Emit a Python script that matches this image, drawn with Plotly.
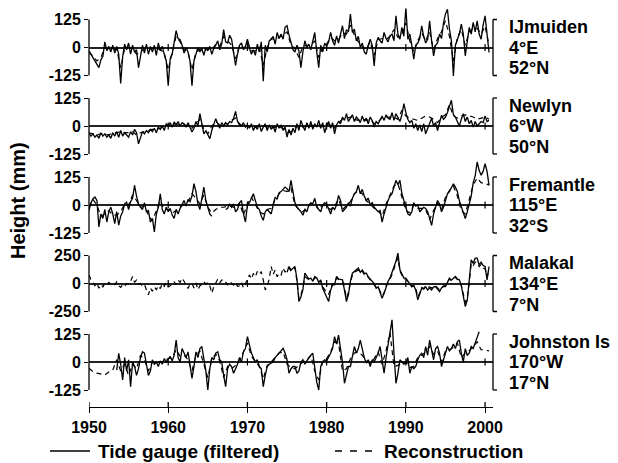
import plotly.graph_objects as go

# ---------------- data (mm) ----------------
START_YEAR = 1950.0
GAUGE_STEP = 0.25          # quarterly samples from 1950.0

decades = [1950, 1960, 1970, 1980, 1990, 2000]
stations = ["IJmuiden", "Newlyn", "Fremantle", "Malakal", "Johnston Is"]
longitudes = ["4°E", "6°W", "115°E", "134°E", "170°W"]
latitudes = ["52°N", "50°N", "32°S", "7°N", "17°N"]
tick_limits = [125, 125, 125, 250, 125]

ijm_gauge = [
    -15, -30, -45, -60,  -75, -90, -55, -40,  25, -15, 5, -20,  10, -25, 5, -30,
    -160, -40, 15, -10,  20, -30, 10, -20,  -10, -90, -40, 10,  -25, 15, -30, 5,
    -20, 10, -35, 20,  -15, 5, -30, -60,  -170, -50, -30, 20,  75, 40, 35, 10,
    -25, 0, -20, -60,  -170, -60, -30, 0,  -20, -5, -35, 0,  -15, 5, -30, -5,
    10, 30, -10, 15,  80, 25, 20, 55,  37, -20, -80, -30,  10, 20, -10, 5,
    37, 0, -30, -10,  -35, 15, -20, 25,  -150, 10, -20, 30,  37, 50, 15, 67,
    40, 60, 37, 90,  97, 55, 20, -10,  -20, 10, -15, -90,  -20, 30, 0, 15,
    -10, 25, 67, -20,  -90, 10, -20, 20,  5, 25, 67, 30,  10, 52, 20, 60,
    97, 40, 80, 70,  149, 67, 82, 30,  50, 0, 20, -20,  -30, 10, 37, 10,
    -82, 20, 45, 30,  20, 67, 40, 25,  52, 60, 30, 141,  60, 37, 90, 50,
    179, 37, 60, 10,  -52, 10, 20, 40,  97, 50, 20, 37,  119, 30, -37, 10,
    20, 60, 40, 110,  150, 171, 82, 30,  -127, 10, 40, 60,  104, 60, -37, 40,
    90, 60, 112, 70,  119, 60, 37, 100,  141, 60, -22,
]
ijm_rec = [
    -20, -40, -60, -45, 0, -5, -5, -10, -90, -5, 0, -5, -30, -20, -5, -10,
    -5, -5, -10, -25, -100, -20, 50, 25, -10, -20, -100, -20, -10, -15, -5, -10,
    15, 5, 50, 30, 10, -50, 10, -5, 20, -15, -15, 0, -80, 0, 40, 35,
    45, 55, 70, 10, -5, -45, 5, 10, 10, 30, -45, 0, 15, 45, 30, 35,
    65, 60, 100, 55, 25, 5, -10, 25, -35, 35, 40, 35, 50, 80, 45, 60,
    110, 30, -20, 30, 65, 30, 70, -10, 40, 70, 120, 50, -60, 45, 80, 10,
    70, 85, 85, 60, 95, 10,
]

new_gauge = [
    -30, -45, -35, -50,  -40, -55, -30, -45,  -35, -50, -40, -55,  -30, -45, -25, -50,
    -20, -45, -30, -40,  -50, -25, -40, -15,  -30, -80, -50, -25,  -35, -20, -30, -15,
    -25, -10, -30, -5,  -15, 0, -20, 10,  0, 15, -5, 18,  5, 20, 0, 15,
    10, -5, 15, -10,  -27, -10, 20, 0,  55, 10, -35, -20,  -40, -57, -20, 5,
    33, 10, -10, 15,  0, 15, 5, 20,  15, 35, 65, 20,  10, 0, 15, -5,
    5, -10, 10, -20,  0, -15, 10, -25,  -5, 10, -20, 5,  -15, 0, -27, 10,
    -10, 5, -20, -5,  -50, -15, -40, -10,  -30, 10, -20, 25,  0, -20, 15, -10,
    20, -15, 10, -5,  25, -10, 15, -30,  0, 20, -10, 15,  -35, 5, 20, 10,
    40, 25, 55, 20,  35, 50, 20, 40,  30, 15, 45, 20,  35, 10, 40, 25,
    -5, 20, 10, 30,  45, 25, 50, 35,  30, 60, 25, 55,  40, 20, 50, 100,
    60, 30, 15, 25,  -10, 10, -20, 5,  -25, 10, -35, -10,  20, 35, 0, 15,
    -20, 10, 48, 30,  40, 60, 90, 115,  50, 40, 20, 0,  30, 55, 20, 40,
    10, 25, -5, 20,  0, 10, 20, 15,  45, 20, 25,
]
new_rec = [
    -30, -35, -40, -35, -35, -40, -30, -30, -25, -30, -30, -25, -40, -30, -25, -20,
    -15, -15, -10, 0, 5, 5, 10, 5, 5, 0, -10, 10, 30, -15, -35, 0,
    20, 5, 10, 10, 25, 35, 5, 5, 0, -5, -5, 0, 0, -5, -10, -5,
    -5, -10, -30, -25, -10, 5, -5, 0, 5, 0, 10, -5, 10, 5, -10, 15,
    30, 35, 40, 30, 25, 30, 25, 30, 10, 20, 35, 40, 40, 40, 30, 70,
    45, 35, 30, 25, 35, 45, 40, 30, 15, 40, 50, 95, 45, 35, 45, 50,
    45, 40, 30, 35, 40, 30,
]

fre_gauge = [
    -24, 10, 28, 36,  20, -98, -40, -60,  -20, -76, -30, -10,  -40, -83, -30, -90,
    -50, -30, 5, 13,  -20, 15, 30, 88,  40, 5, -10, -20,  10, -30, -25, -76,
    -60, -120, -40, -10,  50, -20, -40, -10,  -30, -15, -45, -60,  -20, -40, -15, 0,
    20, -5, 25, 15,  40, 95, 60, 5,  -20, 30, 80, 20,  -10, -40, -50, None,
    None, None, None, None,  None, -20, -15, 5,  -10, 5, -30, -20,  10, 20, -40, -76,
    0, 10, 30, 50,  20, -10, -20, -50,  -68, -30, -20, -30,  -40, 0, 35, 25,
    55, 60, 70, 80,  73, 60, 110, 55,  10, -10, -20, -30,  -46, -20, -30, 0,
    10, 5, 30, -10,  -20, -30, 0, 10,  5, -20, -40, -10,  -20, 0, 43, 20,
    -30, -20, -10, 10,  -5, 30, 50, 60,  88, 50, 70, 40,  20, 30, 0, 10,
    -10, -20, -30, -25,  -76, -40, -5, 20,  40, 50, 80, 110,  90, 110, 50, 20,
    -15, -40, -46, -30,  10, -5, 0, -30,  -20, -10, -15, -30,  -60, -91, -40, -15,
    20, 5, -30, -10,  20, 50, 60, 80,  95, 80, 60, 20,  -10, -40, -61, -30,
    10, 40, 100, 130,  192, 155, 133, 150,  185, 150, 88,
]
fre_rec = [
    -10, 25, 0, -50, -40, -25, -45, -45, -30, 5, 0, 45, 20, -10, -5, -45,
    -70, -20, 20, -20, -20, -35, -25, -10, 5, 15, 50, 30, 5, 45, -10, -35,
    -20, -10, -10, -5, -5, -15, 10, -45, 5, 35, 5, -30, -40, -20, -15, 25,
    50, 65, 60, 75, 0, -20, -30, -10, 5, 10, -20, 0, -10, -20, -5, 25,
    -20, 0, 15, 50, 65, 50, 20, 5, -15, -25, -50, 5, 45, 85, 95, 30,
    -25, -35, 0, -15, -15, -20, -65, -25, 10, -20, 35, 65, 85, 40, -25, -40,
    25, 90, 120, 100, 95, 90,
]

mal_gauge = [None] * 100 + [
    100, 152, 120, 140,  152, 40, -161, -120,  -57, 92, 60, 40,  48, 20, 63, 50,
    10, 33, -42, -80,  -120, -161, -60, -12,  -12, 63, 40, 33,  33, -60, -161, -100,
    20, 92, 110, 120,  137, 100, 122, 90,  92, 60, 40, 18,  0, -42, -30, -80,
    -131, -90, -27, 20,  50, 92, 150, 200,  271, 122, 90, 48,  48, 20, -12, -30,
    -20, -57, -146, -100,  -42, -50, -30, -57,  -40, -57, -30, -27,  -50, -72, -40, -27,
    -27, 10, 48, 30,  50, 63, 40, 33,  -20, -116, -205, -150,  3, 211, 180, 226,
    226, 167, 190, 160,  152, 33, 152,
]
mal_rec = [
    77, 33, 10, -20,  5, -42, -10, -30,  0, -15, 10, -5,  5, -10, 15, -20,
    -35, -10, -25, 0,  -5, 20, 63, 10,  30, -5, 0, -25,  -10, -60, -101, -40,
    -70, -30, -55, -20,  -45, 0, -25, 10,  -30, -20, 0, 15,  -10, 30, 10, 48,
    20, -15, -45, -5,  0, -40, 5, -55,  -20, -10, 15, -5,  10, -20, -86, -30,
    10, 40, 5, 30,  35, 10, -10, 20,  0, -15, 10, -25,  -20, 10, -40, 0,
    48, 77, 40, 90,  60, 107, 80, 107,  30, -57, -20, 40,  152, 80, 120, 60,
    90, 75, 140, 100,  137, 140, 110, 130,  140, 20, -130, -100,  -40, 60, 50, 35,
    40, 25, 50, 40,  15, 20, -30, -60,  -80, -100, -40, -5,  0, 50, 35, 25,
    20, -40, -130, -80,  10, 75, 100, 110,  120, 95, 110, 80,  80, 55, 35, 15,
    -5, -35, -30, -70,  -110, -80, -20, 15,  40, 80, 130, 180,  230, 110, 80, 40,
    40, 15, -10, -25,  -15, -45, -120, -85,  -35, -45, -20, -35,  -30, -40, -25, -20,
    -40, -55, -35, -20,  -20, 5, 40, 25,  45, 55, 35, 25,  -15, -100, -170, -130,
    0, 180, 160, 190,  190, 150, 170, 140,  130, 60, 120,
]

joh_gauge = [None] * 14 + [
    -36, 39,  -10, -80, 20, -40,  10, -110, 0, -20,  -60, -30, 20, 46,
    40, -20, -60, -40,  10, -10, 0, -20,  5, -10, 15, 0,  10, 25, 5, 30,
    98, 20, 0, 60,  40, 20, 45, -20,  -73, -20, 45, 20,  60, 69, 10, -40,
    -125, -30, 20, 10,  40, 46, 10, 0,  -60, -110, -30, -10,  -20, -50, -30, -10,
    20, 0, 46, 60,  113, 80, 40, 20,  0, 10, -20, -30,  -110, -60, -20, -10,
    -5, 0, 20, 30,  35, 50, 61, 40,  10, -50, -30, -20,  -20, -50, -40, 0,
    10, -10, 5, 20,  30, 39, -20, -90,  -125, -20, 0, 10,  5, 20, 39, 60,
    113, 80, 120, 60,  0, -95, -60, -20,  -20, 30, 69, 40,  60, 98, 50, 20,
    -5, 10, -20, 10,  0, 20, 40, 69,  10, -50, 20, 80,  150, 188, 40, -95,
    -50, 10, 0, -10,  -5, 20, -50, -20,  -30, -20, 10, 30,  39, 20, 69, 30,
    98, 50, 10, 60,  69, 40, -20, 10,  40, 69, 50, 60,  80, 60, 90, 98,
    40, 0, 60, 30,  39, 69, 60, 90,  110, 135,
]
joh_rec = [
    -28, -43, -50, -55, -58, -45, -36, 10, -40, -10, -60, -10, -30, 30, 10, -40,
    0, -5, 0, 5, 15, 20, 55, 25, 30, 10, -40, 30, 50, -15, -70, 15,
    35, 5, -70, -20, -30, -15, 10, 45, 85, 25, 5, -20, -75, -15, 0, 20,
    40, 45, -10, -25, -30, -15, 0, 10, 30, -40, -80, 5, 15, 45, 90, 85,
    -40, -30, 15, 40, 45, 30, 5, -5, 15, 45, -10, 50, 130, -20, -15, -5,
    0, -25, -20, 20, 30, 45, 70, 35, 50, 0, 50, 55, 65, 85, 20, 40,
    50, 70, 90, 55, 53, 50,
]

gauges = [ijm_gauge, new_gauge, fre_gauge, mal_gauge, joh_gauge]
recs = [ijm_rec, new_rec, fre_rec, mal_rec, joh_rec]
rec_steps = [0.5, 0.5, 0.5, 0.25, 0.5]

# ---------------- layout geometry (screen pixels of the target) ----------------
W, H = 618, 463
OFF = 8              # the html page body adds an 8px offset
X0_PX, X1_PX = 89, 493
CENTERS = [47.5, 126, 205, 283.5, 362]
HALF = 28.0          # pixels from zero to the +/- tick limit
EXTRA = 45.0         # pixels of room above/below zero so curves can overshoot
XAXIS_PX = 407
FONT = "Liberation Sans, Arial, Helvetica, sans-serif"


def px_y(p):
    return 1 - (p - OFF) / H


def px_x(p):
    return (p - OFF) / W


fig = go.Figure()
shapes, annotations = [], []
layout = {}

for i in range(5):
    suffix = "" if i == 0 else str(i + 1)
    yref = "y" + suffix
    V = tick_limits[i]
    c = CENTERS[i]
    top_p = max(c - EXTRA, OFF + 0.5)
    bot_p = c + EXTRA
    layout["yaxis" + suffix] = dict(
        domain=[px_y(bot_p), px_y(top_p)],
        range=[(c - bot_p) / HALF * V, (c - top_p) / HALF * V],
        anchor="x",
        automargin=False,
        tickmode="array",
        tickvals=[-V, 0, V],
        ticktext=[f"<b>-{V}</b>", "<b>0</b>", f"<b>{V}</b>"],
        ticks="outside", ticklen=4, tickwidth=1.3, tickcolor="black",
        showgrid=False, showline=False,
        zeroline=True, zerolinecolor="#222", zerolinewidth=1.5,
        tickfont=dict(family=FONT, size=16, color="black"),
        fixedrange=True,
    )
    rx = [START_YEAR + rec_steps[i] * j for j in range(len(recs[i]))]
    gx = [START_YEAR + GAUGE_STEP * j for j in range(len(gauges[i]))]
    fig.add_trace(go.Scatter(
        x=rx, y=recs[i], xaxis="x", yaxis=yref, mode="lines",
        line=dict(color="black", width=1.2, dash="5px,4px"),
        connectgaps=False, showlegend=False, name="Reconstruction"))
    fig.add_trace(go.Scatter(
        x=gx, y=gauges[i], xaxis="x", yaxis=yref, mode="lines",
        line=dict(color="black", width=1.3),
        connectgaps=False, showlegend=False, name="Tide gauge (filtered)"))

    # left axis line between the tick limits
    shapes.append(dict(type="line", xref="paper", yref=yref,
                       x0=px_x(X0_PX), x1=px_x(X0_PX), y0=-V, y1=V,
                       line=dict(color="black", width=1.3)))
    # right bracket
    xr = px_x(X1_PX)
    shapes.append(dict(type="line", xref="paper", yref=yref,
                       x0=xr, x1=xr, y0=-V, y1=V,
                       line=dict(color="black", width=1.3)))
    for yv in (-V, V):
        shapes.append(dict(type="line", xref="paper", yref=yref,
                           x0=xr, x1=px_x(X1_PX + 4), y0=yv, y1=yv,
                           line=dict(color="black", width=1.3)))
    # small decade ticks on the zero line
    d = 3.5 * V / HALF
    for yr in decades[1:]:
        shapes.append(dict(type="line", xref="x", yref=yref,
                           x0=yr, x1=yr, y0=-d, y1=d,
                           line=dict(color="black", width=1.2)))
    # station labels
    for txt, off in ((stations[i], -20.3), (longitudes[i], 0), (latitudes[i], 21)):
        annotations.append(dict(
            text=f"<b>{txt}</b>", xref="paper", yref="paper",
            x=px_x(507), y=px_y(c + off), xanchor="left", yanchor="middle",
            showarrow=False, font=dict(family=FONT, size=18, color="black")))

# inner halves of the x-axis ticks
for yr in decades:
    shapes.append(dict(type="line", xref="x", yref="paper",
                       x0=yr, x1=yr, y0=px_y(XAXIS_PX), y1=px_y(XAXIS_PX - 5),
                       line=dict(color="black", width=1.3)))

# y-axis title
annotations.append(dict(
    text="<b>Height (mm)</b>", xref="paper", yref="paper",
    x=px_x(18), y=px_y(201), textangle=-90, showarrow=False,
    xanchor="center", yanchor="middle",
    font=dict(family=FONT, size=20, color="black")))

# legend (drawn by hand)
LEG_Y = 451
shapes.append(dict(type="line", xref="paper", yref="paper",
                   x0=px_x(50), x1=px_x(90), y0=px_y(LEG_Y), y1=px_y(LEG_Y),
                   line=dict(color="black", width=1.3)))
shapes.append(dict(type="line", xref="paper", yref="paper",
                   x0=px_x(335), x1=px_x(375), y0=px_y(LEG_Y), y1=px_y(LEG_Y),
                   line=dict(color="black", width=1.3, dash="7px,8px")))
annotations.append(dict(
    text="<b>Tide gauge (filtered)</b>", xref="paper", yref="paper",
    x=px_x(96), y=px_y(LEG_Y), xanchor="left", yanchor="middle",
    showarrow=False, font=dict(family=FONT, size=19, color="black")))
annotations.append(dict(
    text="<b>Reconstruction</b>", xref="paper", yref="paper",
    x=px_x(382), y=px_y(LEG_Y), xanchor="left", yanchor="middle",
    showarrow=False, font=dict(family=FONT, size=19, color="black")))

fig.update_layout(
    width=W, height=H,
    autosize=False,
    margin=dict(l=0, r=0, t=0, b=0, pad=0, autoexpand=False),
    paper_bgcolor="white", plot_bgcolor="rgba(0,0,0,0)",
    showlegend=False,
    xaxis=dict(
        domain=[px_x(X0_PX), px_x(X1_PX)], range=[1950, 2001],
        anchor="free", position=px_y(XAXIS_PX), automargin=False,
        showline=True, linecolor="black", linewidth=1.3,
        ticks="outside", ticklen=5, tickwidth=1.3, tickcolor="black",
        tickmode="array", tickvals=decades,
        ticktext=[f"<b>{d}</b>" for d in decades],
        showgrid=False, zeroline=False, fixedrange=True,
        ticklabelstandoff=1,
        tickfont=dict(family=FONT, size=16, color="black"),
    ),
    shapes=shapes,
    annotations=annotations,
    **layout,
)

fig.write_html("out.html")
